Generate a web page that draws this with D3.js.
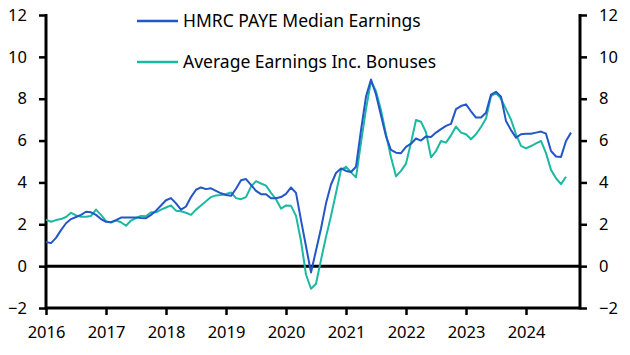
<!DOCTYPE html>
<html>
<head>
<meta charset="utf-8">
<script src="https://cdn.jsdelivr.net/npm/d3@7"></script>
<style>
  body { margin: 0; background: #fff; }
  svg text { font-family: "Noto Sans", sans-serif; fill: #000; }
</style>
</head>
<body>
<svg id="chart"></svg>
<script>
(() => {

  // monthly, Jan 2016 onwards, % y/y
  const startYear = 2016;
  const hmrcMedian = [
    1.15, 1.1, 1.35, 1.72, 2.05, 2.25, 2.35, 2.45, 2.6, 2.57, 2.45, 2.25,
    2.12, 2.1, 2.2, 2.32, 2.33, 2.33, 2.33, 2.3, 2.29, 2.45, 2.65, 2.9,
    3.15, 3.25, 3.0, 2.7, 2.85, 3.3, 3.65, 3.76, 3.68, 3.72, 3.6, 3.48,
    3.4, 3.36, 3.7, 4.1, 4.16, 3.88, 3.6, 3.44, 3.44, 3.24, 3.24, 3.3,
    3.45, 3.76, 3.5, 2.2, 0.95, -0.3, 0.75, 1.8, 3.0, 3.9, 4.45, 4.67,
    4.55, 4.5, 4.75, 6.5, 8.1, 8.92, 8.2, 7.2, 6.2, 5.55, 5.42, 5.4,
    5.7, 5.85, 6.1, 6.0, 6.2, 6.17, 6.38, 6.55, 6.7, 6.8, 7.5, 7.65,
    7.73, 7.4, 7.1, 7.1, 7.33, 8.2, 8.33, 8.1, 6.93, 6.5, 6.14, 6.3,
    6.33, 6.33, 6.38, 6.43, 6.33, 5.5, 5.24, 5.22, 5.98, 6.38
  ];
  const avgEarnings = [
    2.22, 2.12, 2.2, 2.25, 2.35, 2.55, 2.42, 2.36, 2.36, 2.4, 2.7, 2.45,
    2.15, 2.08, 2.18, 2.1, 1.93, 2.18, 2.3, 2.4, 2.38, 2.58, 2.57, 2.7,
    2.8, 2.9, 2.65, 2.62, 2.55, 2.45, 2.7, 2.9, 3.1, 3.3, 3.38, 3.4,
    3.45, 3.52, 3.25, 3.2, 3.3, 3.8, 4.06, 3.95, 3.85, 3.5, 3.2, 2.75,
    2.9, 2.88, 2.4, 1.2, -0.4, -1.08, -0.84, 0.3, 1.4, 2.4, 3.5, 4.6,
    4.75, 4.48, 4.24, 5.9, 7.5, 8.84, 8.36, 7.45, 6.3, 5.2, 4.29, 4.55,
    4.9, 5.9, 6.98, 6.9, 6.4, 5.2, 5.5, 5.98, 5.9, 6.25, 6.67, 6.38,
    6.3, 6.06, 6.3, 6.65, 7.05, 8.12, 8.28, 8.0, 7.5, 7.0, 6.3, 5.75,
    5.63, 5.74, 5.87, 5.98, 5.4, 4.6, 4.2, 3.92, 4.27
  ];
  const seriesNames = ['HMRC PAYE Median Earnings', 'Average Earnings Inc. Bonuses'];
  const seriesColors = ['#2356c8', '#1cb9a2'];
  const yTicks = [-2, 0, 2, 4, 6, 8, 10, 12];
  const xTicks = [2016, 2017, 2018, 2019, 2020, 2021, 2022, 2023, 2024];

  const width = 630, height = 355;
  const left = 46, right = 580, top = 15, bottom = 308;

  const svg = d3.select('#chart')
    .attr('width', width)
    .attr('height', height);

  const x = d3.scaleLinear()
    .domain([2016, 2024.9])
    .range([left, right]);

  const y = d3.scaleLinear()
    .domain([-2, 12])
    .range([bottom, top]);

  const toPoints = (vals) => vals.map((v, i) => ({ t: startYear + i / 12, v: v }));

  const line = d3.line()
    .x(d => x(d.t))
    .y(d => y(d.v));

  // axes
  const yLeft = svg.append('g')
    .attr('transform', `translate(${left},0)`)
    .call(d3.axisLeft(y).tickValues(yTicks).tickSize(7).tickPadding(12).tickFormat(d3.format('d')));
  const yRight = svg.append('g')
    .attr('transform', `translate(${right},0)`)
    .call(d3.axisRight(y).tickValues(yTicks).tickSize(7).tickPadding(12).tickFormat(d3.format('d')));
  const xAxis = svg.append('g')
    .attr('transform', `translate(0,${bottom})`)
    .call(d3.axisBottom(x).tickValues(xTicks).tickSize(7).tickPadding(11).tickFormat(d3.format('d')));

  [yLeft, yRight, xAxis].forEach(g => {
    g.select('.domain').remove();
    g.selectAll('line').attr('stroke', '#000').attr('stroke-width', 2.5);
    g.selectAll('text').style('font-size', '16.5px').attr('fill', '#000');
  });

  // axis frame lines
  svg.append('line')
    .attr('x1', left).attr('x2', left).attr('y1', top - 1).attr('y2', bottom + 1.5)
    .attr('stroke', '#000').attr('stroke-width', 3);
  svg.append('line')
    .attr('x1', right).attr('x2', right).attr('y1', top - 1).attr('y2', bottom + 1.5)
    .attr('stroke', '#000').attr('stroke-width', 3);
  svg.append('line')
    .attr('x1', left).attr('x2', right).attr('y1', bottom).attr('y2', bottom)
    .attr('stroke', '#000').attr('stroke-width', 3);

  // zero line
  svg.append('line')
    .attr('x1', left).attr('x2', right).attr('y1', y(0)).attr('y2', y(0))
    .attr('stroke', '#000').attr('stroke-width', 3);

  // series, teal underneath
  const allSeries = [toPoints(hmrcMedian), toPoints(avgEarnings)];
  svg.selectAll('path.series')
    .data([allSeries[1], allSeries[0]])
    .enter()
    .append('path')
    .attr('class', 'series')
    .attr('d', line)
    .attr('fill', 'none')
    .attr('stroke', (d, i) => seriesColors[1 - i])
    .attr('stroke-width', 2)
    .attr('stroke-linejoin', 'round');

  // legend
  const legend = svg.selectAll('g.legend')
    .data(seriesNames)
    .enter()
    .append('g')
    .attr('class', 'legend')
    .attr('transform', (d, i) => `translate(137,${21 + i * 41})`);
  legend.append('line')
    .attr('x1', 0).attr('x2', 41)
    .attr('stroke', (d, i) => seriesColors[i])
    .attr('stroke-width', 2.5);
  legend.append('text')
    .attr('x', 46)
    .attr('y', 6)
    .style('font-size', '17.5px')
    .text(d => d);

})();
</script>
</body>
</html>
